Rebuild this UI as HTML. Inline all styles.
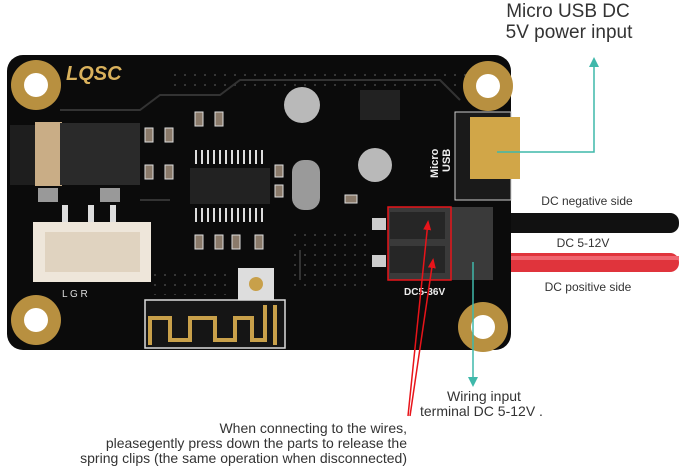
<!DOCTYPE html>
<html><head><meta charset="utf-8"><style>
html,body{margin:0;padding:0;background:#fff;}
body{width:679px;height:472px;overflow:hidden;position:relative;font-family:"Liberation Sans",sans-serif;}
svg{position:absolute;left:0;top:0;}
</style></head><body>
<svg width="679" height="472" viewBox="0 0 679 472">
<defs>
<marker id="ta" markerWidth="10" markerHeight="10" refX="5" refY="5" orient="auto" markerUnits="userSpaceOnUse"><path d="M0,0 L10,5 L0,10 Z" fill="#3fb8aa"/></marker>
<marker id="ra" markerWidth="10" markerHeight="10" refX="8" refY="5" orient="auto" markerUnits="userSpaceOnUse"><path d="M0,1 L10,5 L0,9 Z" fill="#e8141a"/></marker>
<pattern id="dots" width="10" height="10" patternUnits="userSpaceOnUse"><circle cx="5" cy="5" r="1" fill="#444"/></pattern>
</defs>
<!-- wires -->
<rect x="480" y="213" width="199" height="20" rx="9" fill="#111"/>
<rect x="480" y="253" width="199" height="19" rx="9" fill="#e0343c"/>
<rect x="480" y="256" width="199" height="4" fill="#f06670"/>
<!-- board -->
<rect x="7" y="55" width="504" height="295" rx="16" fill="#0b0b0b"/>
<rect x="170" y="70" width="300" height="20" fill="url(#dots)"/>
<rect x="290" y="230" width="80" height="60" fill="url(#dots)"/>
<rect x="150" y="270" width="80" height="25" fill="url(#dots)"/>
<path d="M60,110 H140 L160,95 H220 L240,80 H440 L460,100 M140,200 L170,200 M300,250 V280" fill="none" stroke="#333" stroke-width="2"/>
<!-- holes -->
<g fill="#b89040">
<circle cx="36" cy="85" r="25"/><circle cx="488" cy="86" r="25"/>
<circle cx="36" cy="320" r="25"/><circle cx="483" cy="327" r="25"/>
</g>
<g fill="#fff">
<circle cx="36" cy="85" r="12"/><circle cx="488" cy="86" r="12"/>
<circle cx="36" cy="320" r="12"/><circle cx="483" cy="327" r="12"/>
</g>
<text x="66" y="80" font-size="20" font-weight="bold" font-style="italic" fill="#d9b15c">LQSC</text>
<!-- jack -->
<rect x="10" y="125" width="30" height="60" fill="#1e1e1e"/>
<rect x="35" y="122" width="27" height="64" fill="#c9ad86"/>
<rect x="60" y="123" width="80" height="62" fill="#2a2a2a"/>
<rect x="38" y="188" width="20" height="14" fill="#999"/><rect x="100" y="188" width="20" height="14" fill="#999"/>
<!-- white connector -->
<rect x="33" y="222" width="118" height="60" fill="#eee6da"/>
<rect x="45" y="232" width="95" height="40" fill="#e0d3c0"/>
<rect x="62" y="205" width="6" height="17" fill="#ddd"/><rect x="88" y="205" width="6" height="17" fill="#ddd"/><rect x="110" y="205" width="6" height="17" fill="#ddd"/>
<text x="62" y="297" font-size="10" fill="#ddd">L  G  R</text>
<!-- chip -->
<rect x="190" y="168" width="80" height="36" fill="#222"/>
<g stroke="#ddd" stroke-width="2">
<path d="M196,150v14M202,150v14M208,150v14M214,150v14M220,150v14M226,150v14M232,150v14M238,150v14M244,150v14M250,150v14M256,150v14M262,150v14"/>
<path d="M196,208v14M202,208v14M208,208v14M214,208v14M220,208v14M226,208v14M232,208v14M238,208v14M244,208v14M250,208v14M256,208v14M262,208v14"/>
</g>
<!-- caps -->
<circle cx="302" cy="105" r="18" fill="#b9b9b9"/>
<circle cx="375" cy="165" r="17" fill="#b9b9b9"/>
<rect x="292" y="160" width="28" height="50" rx="12" fill="#9a9a9a"/>
<rect x="360" y="90" width="40" height="30" fill="#222"/>
<!-- small smd -->
<g fill="#8a7a6a" stroke="#ddd" stroke-width="1">
<rect x="145" y="128" width="8" height="14"/><rect x="165" y="128" width="8" height="14"/>
<rect x="145" y="165" width="8" height="14"/><rect x="165" y="165" width="8" height="14"/>
<rect x="195" y="112" width="8" height="14"/><rect x="215" y="112" width="8" height="14"/>
<rect x="195" y="235" width="8" height="14"/><rect x="215" y="235" width="8" height="14"/><rect x="232" y="235" width="8" height="14"/><rect x="255" y="235" width="8" height="14"/>
<rect x="275" y="165" width="8" height="12"/><rect x="275" y="185" width="8" height="12"/><rect x="345" y="195" width="12" height="8"/>
</g>
<!-- ufl -->
<rect x="238" y="268" width="36" height="32" fill="#ddd"/>
<circle cx="256" cy="284" r="7" fill="#c8a04a"/>
<!-- antenna -->
<rect x="145" y="300" width="140" height="48" fill="#151515" stroke="#ddd" stroke-width="1.5"/>
<path d="M150,345 V318 H170 V340 H190 V318 H215 V340 H235 V318 H252 V340 H265 V305 M275,305 V345" fill="none" stroke="#c8a04a" stroke-width="4"/>
<!-- USB -->
<rect x="455" y="112" width="56" height="88" fill="#1a1a1a" stroke="#ccc" stroke-width="1"/>
<rect x="470" y="117" width="50" height="62" fill="#d1a648"/>
<text x="0" y="0" transform="translate(438,178) rotate(-90)" font-size="11" font-weight="bold" fill="#eee">Micro</text>
<text x="0" y="0" transform="translate(450,172) rotate(-90)" font-size="11" font-weight="bold" fill="#eee">USB</text>
<!-- terminal -->
<rect x="388" y="207" width="105" height="73" fill="#3a3a3a"/>
<rect x="390" y="212" width="55" height="27" fill="#262626"/>
<rect x="390" y="246" width="55" height="27" fill="#262626"/>
<rect x="372" y="218" width="14" height="12" fill="#ccc"/>
<rect x="372" y="255" width="14" height="12" fill="#ccc"/>
<rect x="388" y="207" width="63" height="73" fill="none" stroke="#e8141a" stroke-width="1.5"/>
<text x="404" y="295" font-size="10" font-weight="bold" fill="#eee">DC5-36V</text>
<!-- teal lines -->
<path d="M497,152 H594 V62" fill="none" stroke="#3fb8aa" stroke-width="1.5" marker-end="url(#ta)"/>
<path d="M473,262 V382" fill="none" stroke="#3fb8aa" stroke-width="1.5" marker-end="url(#ta)"/>
<!-- red arrows -->
<path d="M408,416 L428,222" stroke="#e8141a" stroke-width="1.5" marker-end="url(#ra)"/>
<path d="M410,416 L433,260" stroke="#e8141a" stroke-width="1.5" marker-end="url(#ra)"/>
<!-- labels -->
<g fill="#333" font-family="Liberation Sans, sans-serif">
<text x="568" y="17" font-size="19" text-anchor="middle">Micro USB DC</text>
<text x="569" y="38" font-size="19" text-anchor="middle">5V power input</text>
<text x="587" y="205" font-size="12" text-anchor="middle">DC negative side</text>
<text x="583" y="247" font-size="12" text-anchor="middle">DC 5-12V</text>
<text x="588" y="291" font-size="12" text-anchor="middle">DC positive side</text>
<text x="447" y="401" font-size="14">Wiring input</text>
<text x="420" y="416" font-size="14">terminal DC 5-12V .</text>
<text x="407" y="433" font-size="14" text-anchor="end">When connecting to the wires,</text>
<text x="407" y="448" font-size="14" text-anchor="end">pleasegently press down the parts to release the</text>
<text x="407" y="463" font-size="14" text-anchor="end">spring clips (the same operation when disconnected)</text>
</g>
</svg>
</body></html>
